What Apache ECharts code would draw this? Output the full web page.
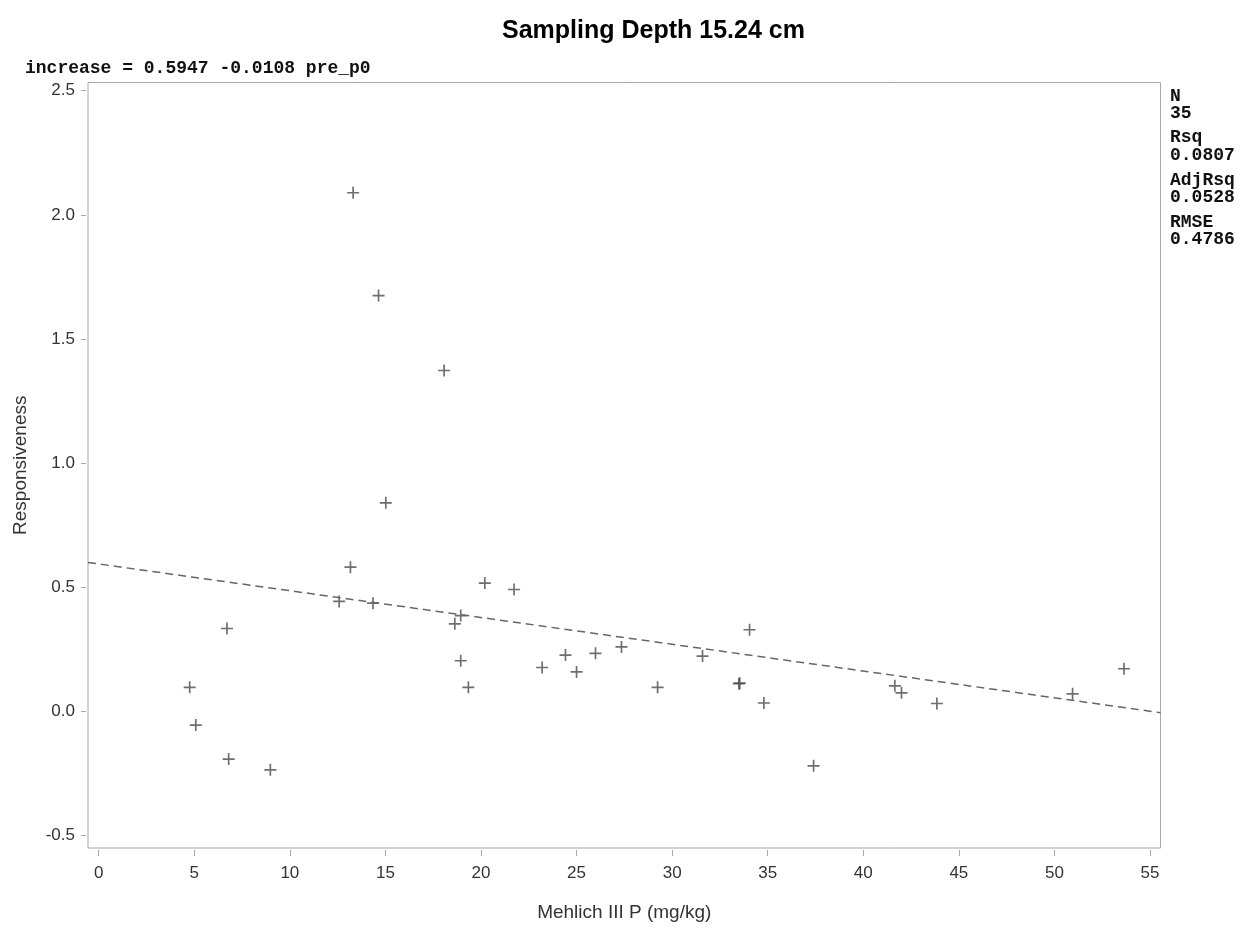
<!DOCTYPE html>
<html>
<head>
<meta charset="utf-8">
<title>Sampling Depth 15.24 cm</title>
<script src="https://cdn.jsdelivr.net/npm/echarts@6/dist/echarts.min.js"></script>
<style>
	html, body { margin: 0; padding: 0; background: #fff; }
	#chart { width: 1247px; height: 928px; }
</style>
</head>
<body>
<div id="chart"></div>
<script>
	// Mehlich III P (mg/kg)
	var pre_p0 = [13.31, 14.64, 18.07, 15.02, 13.17, 12.58, 14.35, 6.71, 18.94, 18.63,
		18.94, 19.34, 4.76, 5.08, 6.80, 8.98, 20.20, 21.73, 23.20, 24.42,
		25.00, 25.99, 27.35, 29.24, 31.59, 33.49, 33.54, 34.05, 34.80, 37.40,
		41.65, 42.00, 43.85, 50.95, 53.64];
	// Responsiveness
	var increase = [2.089, 1.675, 1.373, 0.840, 0.581, 0.443, 0.436, 0.334, 0.386, 0.353,
		0.204, 0.097, 0.097, -0.055, -0.192, -0.235, 0.517, 0.491, 0.177, 0.227,
		0.159, 0.234, 0.260, 0.097, 0.223, 0.112, 0.114, 0.329, 0.034, -0.219,
		0.103, 0.075, 0.032, 0.071, 0.172];
	// fitted line ends
	var fitX = [-0.56, 55.55];
	var fitY = [0.600, -0.005];
	var xTicks = [0, 5, 10, 15, 20, 25, 30, 35, 40, 45, 50, 55];
	var yTicks = [-0.5, 0, 0.5, 1.0, 1.5, 2.0, 2.5];
	var statLines = ['N', '35', 'Rsq', '0.0807', 'AdjRsq', '0.0528', 'RMSE', '0.4786'];
	var statTops = [96, 113, 137, 155, 180, 197, 222, 239];

	var chart = echarts.init(document.getElementById('chart'));

	var points = [];
	for(var i = 0; i < pre_p0.length; i++)
		points.push([pre_p0[i], increase[i]]);
	var fitLine = [];
	for(var i = 0; i < fitX.length; i++)
		fitLine.push([fitX[i], fitY[i]]);

	var monoFont = 'bold 18px "Liberation Mono"';
	var sansFont = '"Liberation Sans", Arial';

	var stats = [];
	for(var i = 0; i < statLines.length; i++){
		stats.push({
			type: 'text',
			left: 1170,
			top: statTops[i] - 9,
			style: {
				text: statLines[i],
				font: monoFont,
				fill: '#111'
			}
		});
	}

	var option = {
		animation: false,
		backgroundColor: '#fff',
		title: {
			text: 'Sampling Depth 15.24 cm',
			left: 497,
			top: 14,
			textStyle: {
				fontFamily: sansFont,
				fontSize: 25,
				fontWeight: 'bold',
				color: '#000'
			}
		},
		graphic: [{
			type: 'text',
			left: 25,
			top: 59,
			style: {
				text: 'increase = 0.5947 -0.0108 pre_p0',
				font: monoFont,
				fill: '#111'
			}
		}].concat(stats),
		grid: {
			left: 88,
			top: 82.5,
			right: 86.5,
			bottom: 80,
			show: true,
			borderColor: '#a8a8a8',
			borderWidth: 1
		},
		xAxis: {
			type: 'value',
			min: -0.56,
			max: 55.55,
			offset: 2,
			name: 'Mehlich III P (mg/kg)',
			nameLocation: 'middle',
			nameGap: 53,
			nameTextStyle: { fontFamily: sansFont, fontSize: 19, color: '#333' },
			axisLine: { show: false, onZero: false },
			axisTick: {
				show: true,
				length: 6,
				customValues: xTicks,
				lineStyle: { color: '#a8a8a8' }
			},
			axisLabel: {
				customValues: xTicks,
				margin: 15,
				fontFamily: sansFont,
				fontSize: 17,
				color: '#333'
			},
			splitLine: { show: false }
		},
		yAxis: {
			type: 'value',
			min: -0.55,
			max: 2.533,
			offset: 2,
			name: 'Responsiveness',
			nameLocation: 'middle',
			nameGap: 56,
			nameTextStyle: { fontFamily: sansFont, fontSize: 19, color: '#333' },
			axisLine: { show: false, onZero: false },
			axisTick: {
				show: true,
				length: 5,
				customValues: yTicks,
				lineStyle: { color: '#a8a8a8' }
			},
			axisLabel: {
				customValues: yTicks,
				margin: 11,
				fontFamily: sansFont,
				fontSize: 17,
				color: '#333',
				formatter: function(value){
					return value.toFixed(1);
				}
			},
			splitLine: { show: false }
		},
		series: [{
			type: 'line',
			data: fitLine,
			symbol: 'none',
			silent: true,
			lineStyle: { color: '#666', width: 1.5, type: [8, 5] }
		}, {
			type: 'scatter',
			data: points,
			symbol: 'path://M4.3,0h1.4v4.3h4.3v1.4h-4.3v4.3h-1.4v-4.3h-4.3v-1.4h4.3z',
			symbolSize: 12,
			itemStyle: { color: '#4a4a4a' }
		}]
	};

	chart.setOption(option);
</script>
</body>
</html>
